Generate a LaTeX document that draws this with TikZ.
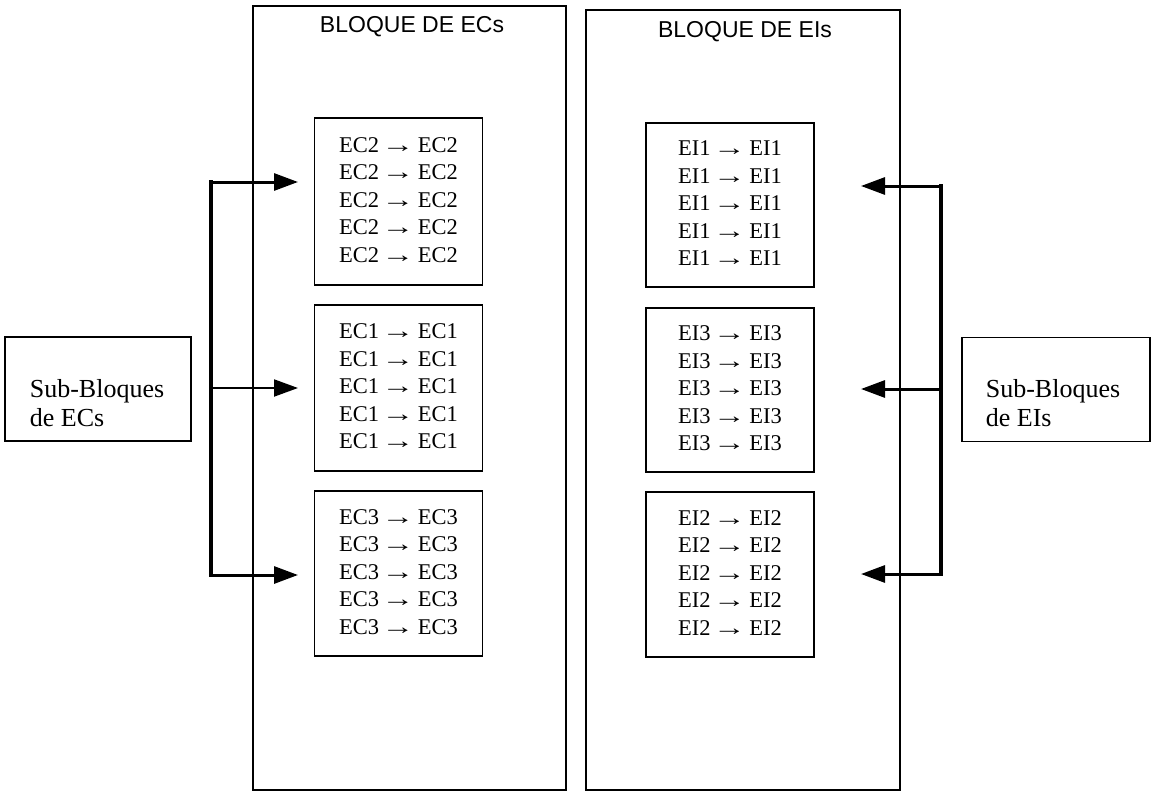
\documentclass[tikz,border=0pt]{standalone}
\usepackage{fontspec}
\setmainfont{Liberation Serif}
\newfontfamily\arialf{Liberation Sans}
\usetikzlibrary{arrows.meta}
\newcommand\myarr{\kern-3pt\scalebox{1.45}[1]{→}\kern-2pt}
\newcommand\entries[1]{\raisebox{4pt}{\begin{tabular}{@{}c@{}}
  #1 \myarr{} #1\\#1 \myarr{} #1\\#1 \myarr{} #1\\#1 \myarr{} #1\\#1 \myarr{} #1
  \end{tabular}}}
\tikzset{
  bigbox/.style={draw, line width=1.4pt, inner sep=0pt},
  title/.style={font=\arialf\fontsize{23}{26}\selectfont, inner sep=0pt},
  subbox/.style={draw, line width=1.8pt, inner sep=0pt, minimum width=168pt,
     font=\fontsize{22.5}{27.5}\selectfont},
  sidebox/.style={draw, line width=1.5pt, inner sep=0pt, minimum height=104pt},
  sidetext/.style={font=\fontsize{26}{29}\selectfont, align=left, inner sep=0pt},
  bus/.style={line width=4pt, line cap=rect},
  feed/.style={line width=3pt, -{Triangle[length=24pt,width=17pt]}},
  feedthin/.style={line width=2pt, -{Triangle[length=24pt,width=17pt]}},
}
\begin{document}
\begin{tikzpicture}[x=1pt,y=-1pt]
\useasboundingbox (0,0) rectangle (1156,792);
% big blocks
\node[bigbox, minimum width=313pt, minimum height=784pt] (ecs) at (409.5,398) {};
\node[bigbox, minimum width=314pt, minimum height=780pt] (eis) at (743,400) {};
\node[title] (tec) at (412,27) {BLOQUE DE ECs};
\node[title] (tei) at (745,32) {BLOQUE DE EIs};
% EC sub-blocks
\node[subbox, minimum height=167pt] (ec2) at (398.5,201.5) {\entries{EC2}};
\node[subbox, minimum height=166pt] (ec1) at (398.5,388) {\entries{EC1}};
\node[subbox, minimum height=165pt] (ec3) at (398.5,573.5) {\entries{EC3}};
% EI sub-blocks
\node[subbox, minimum height=164pt] (ei1) at (730,205) {\entries{EI1}};
\node[subbox, minimum height=164pt] (ei3) at (730,390) {\entries{EI3}};
\node[subbox, minimum height=165pt] (ei2) at (730,574.5) {\entries{EI2}};
% side boxes
\node[sidebox, minimum width=186pt] (sec) at (98,389) {};
\node[sidetext] (secT) at (97,403.5) {Sub-Bloques\\de ECs};
\node[sidebox, minimum width=188pt] (sei) at (1056,389.5) {};
\node[sidetext] (seiT) at (1053,403.5) {Sub-Bloques\\de EIs};
% left distribution
\coordinate (lv1) at (211,182);
\coordinate (lv2) at (211,388);
\coordinate (lv3) at (211,575);
\coordinate (la1) at (298,182);
\coordinate (la2) at (298,388);
\coordinate (la3) at (298,575);
\draw[bus] (lv1) -- (lv3);
\draw[feed] (lv1) -- (la1);
\draw[feedthin] (lv2) -- (la2);
\draw[feed] (lv3) -- (la3);
% right distribution
\coordinate (rv1) at (941,186);
\coordinate (rv2) at (941,389);
\coordinate (rv3) at (941,574);
\coordinate (ra1) at (861,186);
\coordinate (ra2) at (861,389);
\coordinate (ra3) at (861,574);
\draw[bus] (rv1) -- (rv3);
\draw[feed] (rv1) -- (ra1);
\draw[feed] (rv2) -- (ra2);
\draw[feed] (rv3) -- (ra3);
\end{tikzpicture}
\end{document}
